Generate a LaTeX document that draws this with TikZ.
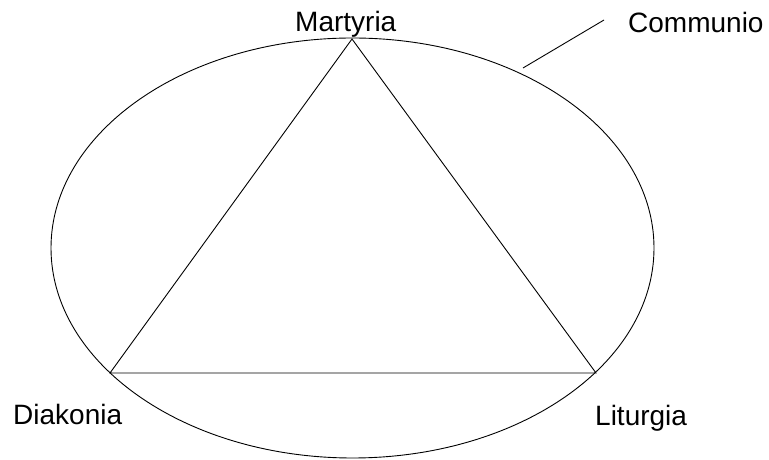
\documentclass[tikz,border=0pt]{standalone}
\usepackage{fontspec}
\setmainfont{Liberation Sans}
\begin{document}
\begin{tikzpicture}[x=1pt,y=1pt,
  lbl/.style={inner sep=0pt, anchor=base west, font=\fontsize{28}{33}\selectfont},
  ln/.style={line width=0.9pt, black}]
\useasboundingbox (0,0) rectangle (769,460);
% ellipse (Communio)
\draw[ln] (352.5,212) ellipse [x radius=301.5, y radius=210];
% triangle vertices
\coordinate (M) at (352,421);
\coordinate (D) at (110,87);
\coordinate (L) at (596,87);
\draw[ln] (M) -- (D) -- (L) -- cycle;
% labels
\node[lbl] (tM) at (295,428) {Martyria};
\node[lbl] (tD) at (13,35) {Diakonia};
\node[lbl] (tL) at (595,34) {Liturgia};
\node[lbl] (tC) at (628,427) {Communio};
% pointer line
\coordinate (c1) at (523,392);
\coordinate (c2) at (604,440);
\draw[ln] (c1) -- (c2);
\end{tikzpicture}
\end{document}
